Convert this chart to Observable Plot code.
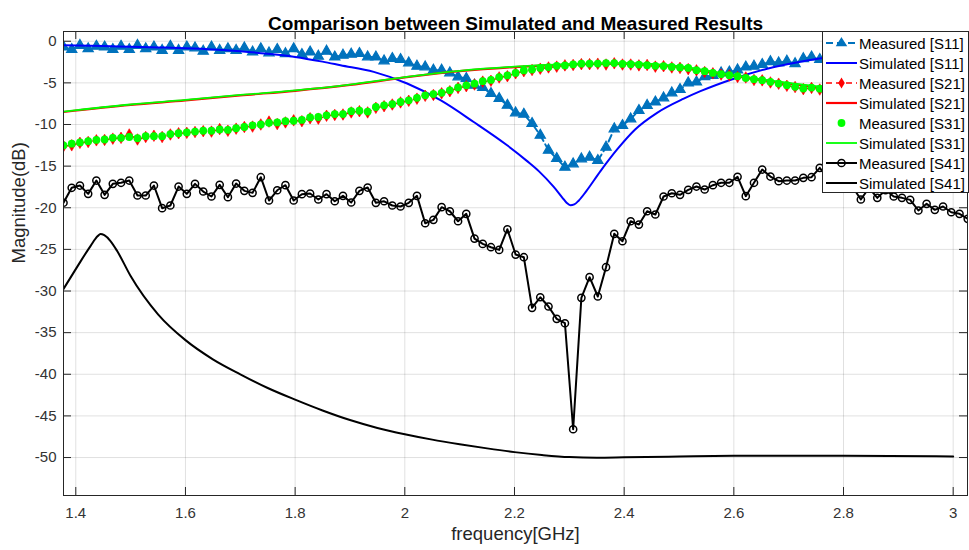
<!DOCTYPE html>
<html><head><meta charset="utf-8">
<script src="https://cdn.jsdelivr.net/npm/d3@7"></script>
<script src="https://cdn.jsdelivr.net/npm/@observablehq/plot@0.6"></script>
<style>
body{margin:0;background:#fff;}
#wrap{position:relative;width:969px;height:550px;font-family:"Liberation Sans",Arial,Helvetica,sans-serif;}
#legend{position:absolute;left:822px;top:31px;width:147px;height:162px;background:#fff;border:1px solid #262626;box-sizing:border-box;}
.row{position:absolute;left:0;height:20px;display:flex;align-items:center;}
.row svg{margin-left:2px;display:block}
.row span{font-size:15px;color:#000;margin-left:1px;white-space:nowrap}
</style></head><body><div id="wrap"></div>
<script>
// ---- data ----
const fStart = 1.3776, fStep = 0.01499, nMeas = 111;
const measFreq = d3.range(nMeas).map(i => fStart + i * fStep);

const measS11 = [-0.7,-1.0,-0.5,-0.9,-0.6,-0.7,-1.0,-0.6,-1.0,-0.5,-0.9,-0.7,-1.1,-0.6,-1.1,-0.7,-0.8,-1.2,-0.7,-1.1,-0.9,-1.1,-0.8,-1.3,-0.9,-1.4,-1.0,-1.5,-0.9,-1.6,-1.3,-1.8,-1.2,-1.9,
 -1.68,-1.56,-1.48,-1.88,-1.9,-2.36,-2.08,-2.2,-2.6,-3.0,-3.08,-3.48,-3.48,-3.8,-4.28,-4.48,-5.28,-5.56,-6.28,-6.88,-7.69,-8.6,-8.77,-9.88,-11.29,-13.09,-14.09,-15.13,-14.73,-14.13,-13.93,-14.33,-12.73,-10.52,-10.12,-9.32,-8.32,
 -7.7,-7.3,-6.8,-6.2,-5.8,-5.0,-4.9,-4.26,-4.1,-3.8,-3.7,-3.45,-3.1,-3.0,-2.8,-2.45,-2.6,-2.4,-2.7,-2.1,-1.9,-2.2,
 -1.9,-2.2,-1.7,-2.0,-1.8,-1.6,-2.0,-1.7,-1.5,-1.9,-1.6,-1.4,-1.7,-1.5,-1.3,-1.6,-1.4,-1.2];

const measS21 = [-12.6,-12.5,-12.2,-12.1,-11.9,-11.85,-11.7,-11.6,-11.2,-11.8,-11.5,-11.35,-11.5,-11.2,-11.05,-11.0,-10.9,-10.8,-10.85,-10.55,-10.75,-10.5,-10.3,-10.25,-10.0,-9.65,-9.95,-9.75,-9.5,-9.6,-9.25,-9.3,-8.95,-8.85,-8.8,-8.55,-8.4,-8.55,-8.0,
 -7.8,-7.6,-7.35,-7.15,-6.9,-6.55,-6.45,-6.25,-6.0,-5.6,-5.4,-5.2,-4.85,-4.75,-4.35,-4.2,-3.85,-3.6,-3.45,-3.3,-3.15,-3.05,-2.9,-2.85,-2.75,-2.75,-2.7,
 -2.8,-2.65,-2.8,-2.8,-2.9,-2.85,-3.05,-3.0,-3.15,-3.2,-3.35,-3.5,-3.7,-3.85,-4.0,-4.1,-4.3,-4.35,-4.65,-4.7,-4.95,-5.1,-5.35,-5.5,-5.75,-5.6,-5.8,
 -5.8,-5.95,-5.95,-6.1,-6.1,-6.25,-6.25,-6.4,-6.4,-6.55,-6.55,-6.7,-6.7,-6.85,-6.85,-7.0,-7.0,-7.1];

const measS31 = [-12.5,-12.3,-12.15,-12.0,-11.85,-11.8,-11.6,-11.6,-11.5,-11.65,-11.4,-11.4,-11.4,-11.15,-11.05,-10.95,-10.85,-10.75,-10.75,-10.6,-10.65,-10.45,-10.3,-10.1,-10.0,-9.8,-9.75,-9.6,-9.55,-9.45,-9.15,-9.1,-8.9,-8.75,-8.75,-8.4,-8.35,-8.45,-7.9,
 -7.7,-7.55,-7.3,-7.1,-6.8,-6.5,-6.35,-6.2,-5.9,-5.55,-5.3,-5.1,-4.8,-4.65,-4.3,-4.1,-3.8,-3.5,-3.4,-3.2,-3.1,-2.95,-2.9,-2.78,-2.7,-2.7,-2.68,
 -2.62,-2.62,-2.72,-2.75,-2.8,-2.88,-2.95,-2.98,-3.08,-3.15,-3.2,-3.48,-3.6,-3.8,-3.96,-4.08,-4.2,-4.4,-4.56,-4.68,-4.88,-5.08,-5.28,-5.48,-5.68,-5.56,-5.7,
 -5.75,-5.85,-5.9,-6.0,-6.05,-6.15,-6.2,-6.3,-6.35,-6.45,-6.5,-6.6,-6.65,-6.75,-6.8,-6.9,-6.95,-7.0];

const measS41 = [-19.4,-17.6,-17.33,-18.33,-16.73,-18.45,-17.13,-17.0,-16.73,-18.53,
 -18.53,-17.33,-20.05,-19.73,-17.45,-18.33,-17.13,-18.05,-18.65,-17.25,
 -18.73,-17.09,-17.97,-18.21,-16.33,-19.13,-17.9,-17.29,-19.13,-18.37,
 -18.29,-19.01,-18.37,-19.22,-18.57,-19.37,-17.97,-17.57,-19.41,-19.22,
 -19.73,-19.85,-19.41,-18.57,-21.86,-21.45,-19.93,-20.42,-21.62,-20.73,
 -23.7,-24.34,-24.74,-25.06,-22.58,-25.62,-25.94,-32.02,-30.75,-31.86,
 -33.34,-33.87,-46.6,-30.82,-28.34,-30.66,-27.14,-23.13,-24.02,-21.62,
 -22.02,-20.42,-20.81,-18.65,-18.26,-18.45,-17.85,-17.45,-17.81,-17.29,
 -17.0,-17.0,-16.29,-18.61,-17.0,-15.41,-16.25,-16.81,-16.73,-16.73,
 -16.41,-16.33,-15.21,-16.5,-17.0,-16.2,-17.5,-19.01,-17.6,-18.81,
 -17.9,-18.65,-18.81,-19.05,-20.33,-19.53,-20.25,-19.85,-20.54,-20.73,-21.33];

const simS11Freq = [1.3776,1.45,1.5,1.55,1.6,1.65,1.7,1.75,1.8,1.85,1.8827,1.9434,2.0043,2.065,2.1257,2.1866,2.2231,2.2443,2.2716,2.2875,2.295,2.302,2.309,2.317,2.331,2.3568,2.3872,2.42,2.46,2.5087,2.5391,2.5999,2.6607,2.7337,2.7762,2.85,2.92,3.0];
const simS11 = [-0.48,-0.58,-0.66,-0.74,-0.84,-0.98,-1.2,-1.5,-1.88,-2.45,-2.88,-3.68,-5.08,-7.08,-9.7,-12.5,-14.4,-15.6,-17.5,-18.8,-19.4,-19.7,-19.6,-19.15,-18.0,-15.6,-13.0,-10.6,-8.6,-6.9,-6.0,-4.5,-3.3,-2.3,-1.9,-1.6,-1.45,-1.3];

const simS2131Freq = [1.3776,1.5,1.6,1.7,1.8,1.9,2.0,2.1,2.2,2.3,2.4,2.5,2.6,2.7,2.8,2.9,3.0];
const simS21 = [-8.5,-7.65,-7.1,-6.5,-5.95,-5.25,-4.35,-3.6,-3.1,-2.8,-2.68,-3.08,-4.15,-5.1,-5.9,-6.5,-7.05];
const simS31 = [-8.45,-7.6,-7.05,-6.45,-5.9,-5.2,-4.3,-3.55,-3.05,-2.75,-2.62,-3.0,-4.08,-5.0,-5.75,-6.35,-6.9];

const simS41Freq = [1.3776,1.4025,1.4268,1.44,1.4451,1.452,1.4633,1.4755,1.5,1.55,1.6,1.65,1.7,1.75,1.8,1.85,1.9,1.95,2.0,2.05,2.1,2.15,2.2,2.25,2.3,2.35,2.4,2.5,2.6,2.8,3.0];
const simS41 = [-29.75,-27.1,-24.6,-23.4,-23.15,-23.3,-24.0,-25.2,-28.2,-32.8,-35.9,-38.2,-40.0,-41.65,-43.05,-44.35,-45.5,-46.45,-47.2,-47.85,-48.4,-48.9,-49.35,-49.7,-49.95,-50.02,-49.98,-49.88,-49.8,-49.78,-49.88];

const xTicks = [1.4,1.6,1.8,2.0,2.2,2.4,2.6,2.8,3.0];
const yTicks = [0,-5,-10,-15,-20,-25,-30,-35,-40,-45,-50];

const titleText = "Comparison between Simulated and Measured Results";
const xLabel = "frequency[GHz]";
const yLabel = "Magnitude(dB)";
const legendLabels = ["Measured [S11]","Simulated [S11]","Measured [S21]","Simulated [S21]","Measured [S31]","Simulated [S31]","Measured [S41]","Simulated [S41]"];

// ---- tables ----
const meas = measFreq.map((f,i)=>({f, s11:measS11[i], s21:measS21[i], s31:measS31[i], s41:measS41[i]}));
const sim11 = simS11Freq.map((f,i)=>({f, v:simS11[i]}));
const sim21 = simS2131Freq.map((f,i)=>({f, v:simS21[i]}));
const sim31 = simS2131Freq.map((f,i)=>({f, v:simS31[i]}));
const sim41 = simS41Freq.map((f,i)=>({f, v:simS41[i]}));

const W=969, H=550, mL=63, mR=2, mT=31, mB=55;
const fw=W-mL-mR, fh=H-mT-mB, tk=8;
const BLUE="#0072BD", axisCol="#262626";

const chart = Plot.plot({
  width:W, height:H, marginLeft:mL, marginRight:mR, marginTop:mT, marginBottom:mB,
  style:{fontFamily:"'Liberation Sans', Arial, Helvetica, sans-serif", fontSize:"15px", color:"#333", background:"#fff", overflow:"visible"},
  x:{domain:[1.3776,3.0261]},
  y:{domain:[-54.56,1.17]},
  marks:[
    Plot.gridX(xTicks,{stroke:"#000", strokeOpacity:0.12, strokeWidth:1}),
    Plot.gridY(yTicks,{stroke:"#000", strokeOpacity:0.12, strokeWidth:1}),
    Plot.axisX(xTicks,{tickSize:0, tickPadding:12, tickFormat:d=>String(+d.toFixed(1)), label:null, fontSize:15, fill:"#333"}),
    Plot.axisY(yTicks,{tickSize:0, tickPadding:7, tickFormat:d=>String(d), label:null, fontSize:15, fill:"#333"}),
    // measured S11
    Plot.line(meas,{x:"f", y:"s11", stroke:BLUE, strokeWidth:2, strokeDasharray:"7,4", clip:true}),
    Plot.dot(meas,{x:"f", y:"s11", symbol:"triangle", r:3.8, fill:BLUE, stroke:BLUE, strokeWidth:1.2, clip:true}),
    // simulated S11
    Plot.line(sim11,{x:"f", y:"v", stroke:"#0000FF", strokeWidth:2, curve:"monotone-x", clip:true}),
    // measured S21
    Plot.line(meas,{x:"f", y:"s21", stroke:"#FF0000", strokeWidth:1.5, strokeDasharray:"6,4", clip:true}),
    Plot.dot(meas,{x:"f", y:"s21", symbol:"diamond", r:3.5, fill:"#FF0000", stroke:"#FF0000", strokeWidth:0.6, clip:true}),
    // simulated S21
    Plot.line(sim21,{x:"f", y:"v", stroke:"#FF0000", strokeWidth:2.2, curve:"monotone-x", clip:true}),
    // measured S31
    Plot.dot(meas,{x:"f", y:"s31", r:3.9, fill:"#00FF00", stroke:"none", clip:true}),
    // simulated S31
    Plot.line(sim31,{x:"f", y:"v", stroke:"#00FF00", strokeWidth:1.8, curve:"monotone-x", clip:true}),
    // measured S41
    Plot.line(meas,{x:"f", y:"s41", stroke:"#000", strokeWidth:2, clip:true}),
    Plot.dot(meas,{x:"f", y:"s41", r:3.6, fill:"none", stroke:"#000", strokeWidth:1.5, clip:true}),
    // simulated S41
    Plot.line(sim41,{x:"f", y:"v", stroke:"#000", strokeWidth:2, curve:"monotone-x", clip:true}),
    // inward ticks (box on all sides)
    Plot.tickX(xTicks,{x:d=>d, stroke:axisCol, insetTop:fh-tk}),
    Plot.tickX(xTicks,{x:d=>d, stroke:axisCol, insetBottom:fh-tk}),
    Plot.tickY(yTicks,{y:d=>d, stroke:axisCol, insetRight:fw-tk}),
    Plot.tickY(yTicks,{y:d=>d, stroke:axisCol, insetLeft:fw-tk}),
    Plot.frame({stroke:axisCol, strokeWidth:1}),
    // title and axis labels
    Plot.text([titleText],{text:d=>d, frameAnchor:"top", dy:-15, fontSize:19, fontWeight:"bold", fill:"#000"}),
    Plot.text([xLabel],{text:d=>d, frameAnchor:"bottom", dy:44, fontSize:18.5, fill:"#262626"}),
    Plot.text([yLabel],{text:d=>d, frameAnchor:"left", dx:-44, rotate:-90, fontSize:18.5, fill:"#262626"})
  ]
});
const wrap = document.getElementById("wrap");
wrap.appendChild(chart);

// ---- legend ----
const legendStyles = [
  {stroke:BLUE, dash:"7,4", w:2, marker:"tri", mc:BLUE},
  {stroke:"#0000FF", dash:null, w:2},
  {stroke:"#FF0000", dash:"6,4", w:1.5, marker:"dia", mc:"#FF0000"},
  {stroke:"#FF0000", dash:null, w:2.2},
  {stroke:null, marker:"dot", mc:"#00FF00"},
  {stroke:"#00FF00", dash:null, w:1.8},
  {stroke:"#000", dash:null, w:2, marker:"circ", mc:"#000"},
  {stroke:"#000", dash:null, w:2}
];
const leg = document.createElement("div");
leg.id = "legend";
legendLabels.forEach((lab,i)=>{
  const s = legendStyles[i];
  const row = document.createElement("div");
  row.className = "row";
  row.style.top = (1 + 20*i) + "px";
  let svg = `<svg width="33" height="20" viewBox="0 0 33 20">`;
  if (s.stroke) svg += `<line x1="1" y1="10" x2="32" y2="10" stroke="${s.stroke}" stroke-width="${s.w}" ${s.dash?`stroke-dasharray="${s.dash}"`:""}/>`;
  if (s.marker==="tri") svg += `<path d="M16.5,5.2 L21.2,12.6 L11.8,12.6 Z" fill="${s.mc}" stroke="${s.mc}" stroke-width="1.2"/>`;
  if (s.marker==="dia") svg += `<path d="M16.5,4.5 L19.8,10 L16.5,15.5 L13.2,10 Z" fill="${s.mc}"/>`;
  if (s.marker==="dot") svg += `<circle cx="16.5" cy="10" r="3.9" fill="${s.mc}"/>`;
  if (s.marker==="circ") svg += `<circle cx="16.5" cy="10" r="3.6" fill="none" stroke="${s.mc}" stroke-width="1.5"/>`;
  svg += `</svg>`;
  row.innerHTML = svg + `<span>${lab}</span>`;
  leg.appendChild(row);
});
wrap.appendChild(leg);
</script></body></html>
